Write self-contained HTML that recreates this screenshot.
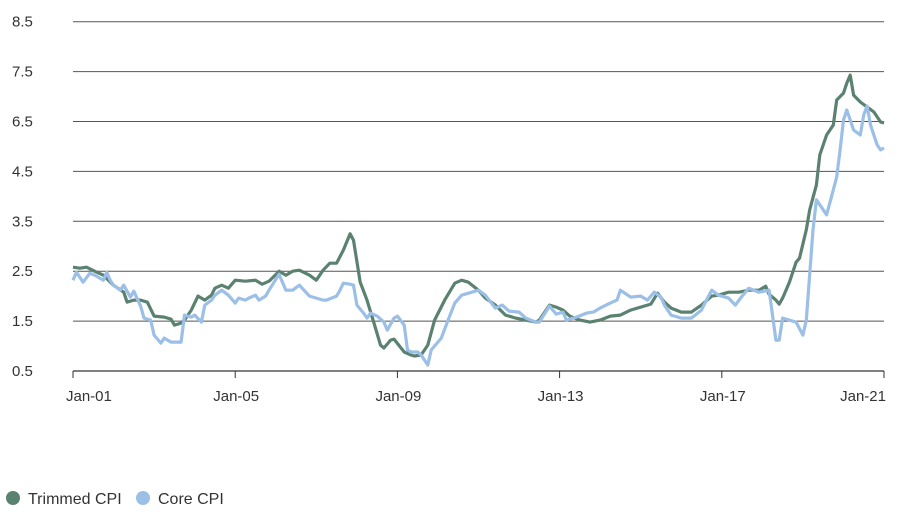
<!DOCTYPE html>
<html><head><meta charset="utf-8"><style>
body{margin:0;background:#fff;font-family:"Liberation Sans",sans-serif;}
svg text{font-family:"Liberation Sans",sans-serif;fill:#333;}
</style></head><body>
<svg width="904" height="514">
<g id="grid"></g>
<g id="series"></g>
<g id="axis"></g>
<g>
<g><circle cx="13" cy="498" r="7" fill="#5b8270"/><text x="28" y="504" font-size="16">Trimmed CPI</text></g>
<g><circle cx="143" cy="498" r="7" fill="#9bbfe6"/><text x="158" y="504" font-size="16">Core CPI</text></g>
</g>
</svg>
<script>
const yTickLabels=["0.5","1.5","2.5","3.5","4.5","6.5","7.5","8.5"];
const xTickLabels=["Jan-01","Jan-05","Jan-09","Jan-13","Jan-17","Jan-21"];
const xTickMonths=[0,48,96,144,192,240];
const trimMonths=[0,2,4,7,9,12,15,16,18,20,22,24,27,29,30,32,33,35,37,39,41,42,44,46,48,51,54,56,58,61,63,65,67,70,72,74,76,78,80,82,83,85,87,89,91,92,94,95,98,100,101,103,105,107,110,113,115,117,120,122,125,128,131,134,137,138,141,143,145,147,150,153,156,159,162,165,168,171,173,175,177,180,183,186,189,191,194,197,200,203,205,206,208,209,210,211,212,214,215,217,218,220,221,223,225,226,228,229,230,231,233,235,237,239,240];
const trimValues=[2.58,2.56,2.58,2.48,2.42,2.22,2.08,1.88,1.92,1.92,1.88,1.60,1.58,1.54,1.42,1.46,1.52,1.72,2.00,1.92,2.02,2.16,2.22,2.16,2.32,2.30,2.32,2.24,2.30,2.50,2.42,2.50,2.52,2.42,2.32,2.52,2.66,2.66,2.92,3.25,3.12,2.28,1.92,1.48,1.02,0.96,1.12,1.14,0.88,0.82,0.80,0.82,1.02,1.52,1.92,2.26,2.32,2.28,2.12,1.96,1.82,1.62,1.56,1.52,1.48,1.52,1.82,1.78,1.72,1.60,1.52,1.48,1.52,1.60,1.62,1.72,1.78,1.84,2.06,1.88,1.76,1.68,1.68,1.82,2.00,2.02,2.08,2.08,2.12,2.12,2.20,2.04,1.92,1.84,1.96,2.12,2.28,2.68,2.76,3.33,3.73,4.23,4.83,5.23,5.43,5.93,6.07,6.27,6.43,6.03,5.89,5.79,5.69,5.49,5.47];
const coreMonths=[0,1,3,5,7,9,10,11,12,14,15,17,18,20,21,23,24,26,27,29,30,32,33,35,36,38,39,41,42,44,46,48,49,51,52,54,55,57,58,61,63,65,67,70,72,74,75,78,79,80,82,83,84,86,87,88,90,92,93,95,96,98,99,100,102,103,105,106,109,111,113,115,117,120,122,125,127,129,132,134,137,138,141,143,145,146,149,152,154,156,159,161,162,165,168,170,172,174,175,177,180,183,186,187,189,191,194,196,198,200,203,206,208,209,210,212,214,216,217,219,220,222,223,225,226,227,228,229,231,233,234,235,236,238,239,240];
const coreValues=[2.32,2.48,2.28,2.46,2.40,2.32,2.48,2.32,2.22,2.12,2.22,1.98,2.10,1.80,1.56,1.52,1.22,1.06,1.16,1.08,1.08,1.08,1.62,1.58,1.62,1.48,1.82,1.92,2.02,2.12,2.02,1.86,1.96,1.92,1.96,2.02,1.92,2.00,2.12,2.44,2.12,2.12,2.22,2.00,1.96,1.92,1.92,2.00,2.12,2.26,2.24,2.22,1.82,1.66,1.56,1.66,1.60,1.48,1.32,1.56,1.60,1.42,0.92,0.88,0.88,0.82,0.62,0.92,1.16,1.52,1.86,2.02,2.06,2.12,2.02,1.76,1.82,1.70,1.68,1.56,1.48,1.48,1.80,1.64,1.68,1.52,1.58,1.66,1.68,1.76,1.86,1.92,2.12,1.98,2.00,1.92,2.08,1.98,1.82,1.62,1.56,1.56,1.72,1.86,2.12,2.02,1.96,1.82,2.00,2.16,2.08,2.12,1.12,1.12,1.56,1.52,1.48,1.22,1.52,3.33,3.93,3.73,3.63,4.13,4.39,4.93,5.53,5.73,5.33,5.23,5.63,5.81,5.43,5.03,4.93,4.97];
const NS="http://www.w3.org/2000/svg";
const x0=73,x1=884,yBase=371,pxPerUnit=49.9;
function xs(m){return x0+(x1-x0)*m/240;}
function ys(v){return yBase-(v-0.5)*pxPerUnit;}
const grid=document.getElementById('grid');
yTickLabels.forEach((lab,i)=>{
  const y=yBase-i*pxPerUnit;
  const l=document.createElementNS(NS,'line');
  
  
  l.setAttribute('x1',73);l.setAttribute('x2',884);l.setAttribute('y1',y);l.setAttribute('y2',y);
  l.setAttribute('stroke',i==0?'#333':'#555');l.setAttribute('stroke-width',i==0?1.2:1);
  grid.appendChild(l);
  const t=document.createElementNS(NS,'text');
  
  
  t.setAttribute('x',12);t.setAttribute('y',y+5);t.setAttribute('font-size','15');
  t.textContent=lab;grid.appendChild(t);
});
const axis=document.getElementById('axis');
xTickLabels.forEach((lab,i)=>{
  const x=xs(xTickMonths[i]);
  const l=document.createElementNS(NS,'line');
  
  
  l.setAttribute('x1',x);l.setAttribute('x2',x);l.setAttribute('y1',371);l.setAttribute('y2',378);
  l.setAttribute('stroke','#333');axis.appendChild(l);
  const t=document.createElementNS(NS,'text');
  
  
  t.setAttribute('y',401);t.setAttribute('font-size','15');
  if(i==0){t.setAttribute('x',x-7);t.setAttribute('text-anchor','start');}
  else if(i==5){t.setAttribute('x',x+2);t.setAttribute('text-anchor','end');}
  else{t.setAttribute('x',x+1);t.setAttribute('text-anchor','middle');}
  t.textContent=lab;axis.appendChild(t);
});
const ser=document.getElementById('series');
function line(ms,vs,color,name){
  const p=document.createElementNS(NS,'path');
  
  
  p.setAttribute('d',ms.map((m,i)=>(i?'L':'M')+xs(m).toFixed(1)+','+ys(vs[i]).toFixed(1)).join(''));
  p.setAttribute('fill','none');p.setAttribute('stroke',color);p.setAttribute('stroke-width','3.2');
  p.setAttribute('stroke-linejoin','round');
  ser.appendChild(p);
}
line(trimMonths,trimValues,'#5b8270','trimmed-cpi-line');
line(coreMonths,coreValues,'#9bbfe6','core-cpi-line');
</script>
</body></html>
